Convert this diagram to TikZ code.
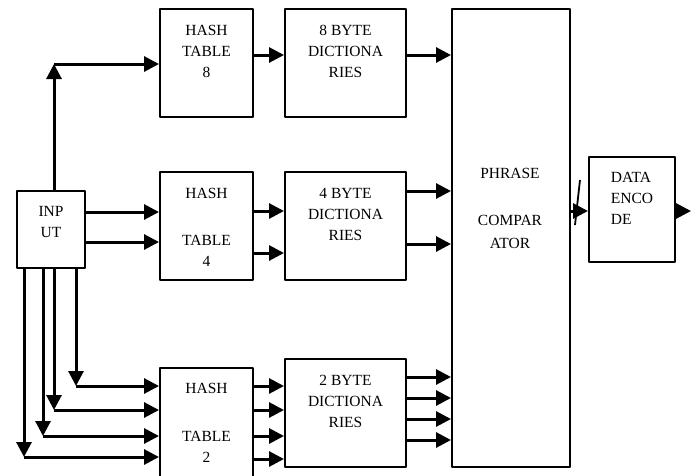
\documentclass[tikz,border=0pt]{standalone}
\usepackage{fontspec}
\setmainfont{Liberation Serif}
\usepackage{tikz}
\usetikzlibrary{arrows.meta}

\tikzset{
  blk/.style={draw, line width=2pt, inner sep=0pt},
  lbl/.style={anchor=north, align=center, inner sep=0pt, font=\fontsize{15.5}{21}\selectfont},
  arr/.style={line width=3pt, -{Triangle[length=15pt,width=15pt]}}
}

\begin{document}
\begin{tikzpicture}[x=1pt, y=-1pt, line join = round]
\useasboundingbox (0,0) rectangle (699,475);

% blocks
\node[blk, minimum width=68pt, minimum height=77pt] (inp) at (51,229.5) {};
\node[blk, minimum width=93pt, minimum height=108pt] (hash8) at (206.5,63) {};
\node[blk, minimum width=121pt, minimum height=108pt] (dict8) at (345.5,63) {};
\node[blk, minimum width=93pt, minimum height=108pt] (hash4) at (206.5,226) {};
\node[blk, minimum width=121pt, minimum height=108pt] (dict4) at (345.5,226) {};
\node[blk, minimum width=93pt, minimum height=110pt] (hash2) at (206.5,423) {};
\node[blk, minimum width=121pt, minimum height=108pt] (dict2) at (345.5,413) {};
\node[blk, minimum width=118pt, minimum height=458pt] (phrase) at (511,238) {};
\node[blk, minimum width=86pt, minimum height=105pt] (data) at (632,209.5) {};

% texts
\node[lbl] (inptxt) at (51,206) {INP\\UT};
\node[lbl] (hash8txt) at (206.5,25) {HASH\\TABLE\\8};
\node[lbl] (dict8txt) at (345.5,25) {8 BYTE\\DICTIONA\\RIES};
\node[lbl] (hash4txt) at (206.5,188) {HASH\\[26pt]TABLE\\4};
\node[lbl] (dict4txt) at (345.5,188) {4 BYTE\\DICTIONA\\RIES};
\node[lbl] (hash2txt) at (206.5,383) {HASH\\[27pt]TABLE\\2};
\node[lbl] (dict2txt) at (345.5,375) {2 BYTE\\DICTIONA\\RIES};
\node[lbl] (phrasetxt) at (510,168) {PHRASE\\[26pt]COMPAR\\[2pt]ATOR};
\node[lbl, align=left] (datatxt) at (632,172) {DATA\\ENCO\\DE};

% corners and free ends
\coordinate (up8) at (54,64);
\coordinate (dn1) at (76,386);
\coordinate (dn2) at (54,410);
\coordinate (dn3) at (43,436);
\coordinate (dn4) at (24,457);
\coordinate (out) at (691,211);

% 8 byte path
\draw[arr] (inp.north -| up8) -- (up8);
\draw[arr] (up8) -- (hash8.west |- up8);
\draw[arr] (hash8.east |- 0,55) -- (dict8.west |- 0,55);
\draw[arr] (dict8.east |- 0,55) -- (phrase.west |- 0,55);

% 4 byte path
\draw[arr] (inp.east |- 0,212) -- (hash4.west |- 0,212);
\draw[arr] (inp.east |- 0,242) -- (hash4.west |- 0,242);
\draw[arr] (hash4.east |- 0,211) -- (dict4.west |- 0,211);
\draw[arr] (hash4.east |- 0,253) -- (dict4.west |- 0,253);
\draw[arr] (dict4.east |- 0,191) -- (phrase.west |- 0,191);
\draw[arr] (dict4.east |- 0,244) -- (phrase.west |- 0,244);

% 2 byte path
\draw[arr] (inp.south -| dn1) -- (dn1);
\draw[arr] (inp.south -| dn2) -- (dn2);
\draw[arr] (inp.south -| dn3) -- (dn3);
\draw[arr] (inp.south -| dn4) -- (dn4);
\draw[arr] (dn1) -- (hash2.west |- dn1);
\draw[arr] (dn2) -- (hash2.west |- dn2);
\draw[arr] (dn3) -- (hash2.west |- dn3);
\draw[arr] (dn4) -- (hash2.west |- dn4);
\draw[arr] (hash2.east |- 0,386) -- (dict2.west |- 0,386);
\draw[arr] (hash2.east |- 0,410) -- (dict2.west |- 0,410);
\draw[arr] (hash2.east |- 0,436) -- (dict2.west |- 0,436);
\draw[arr] (hash2.east |- 0,459) -- (dict2.west |- 0,459);
\draw[arr] (dict2.east |- 0,377) -- (phrase.west |- 0,377);
\draw[arr] (dict2.east |- 0,398) -- (phrase.west |- 0,398);
\draw[arr] (dict2.east |- 0,419) -- (phrase.west |- 0,419);
\draw[arr] (dict2.east |- 0,440) -- (phrase.west |- 0,440);

% output
\draw[arr] (phrase.east |- 0,211) -- (data.west |- 0,211);
\draw[line width=1.8pt] (580,180) -- (575,225);
\draw[arr] (data.east |- out) -- (out);
\end{tikzpicture}
\end{document}
